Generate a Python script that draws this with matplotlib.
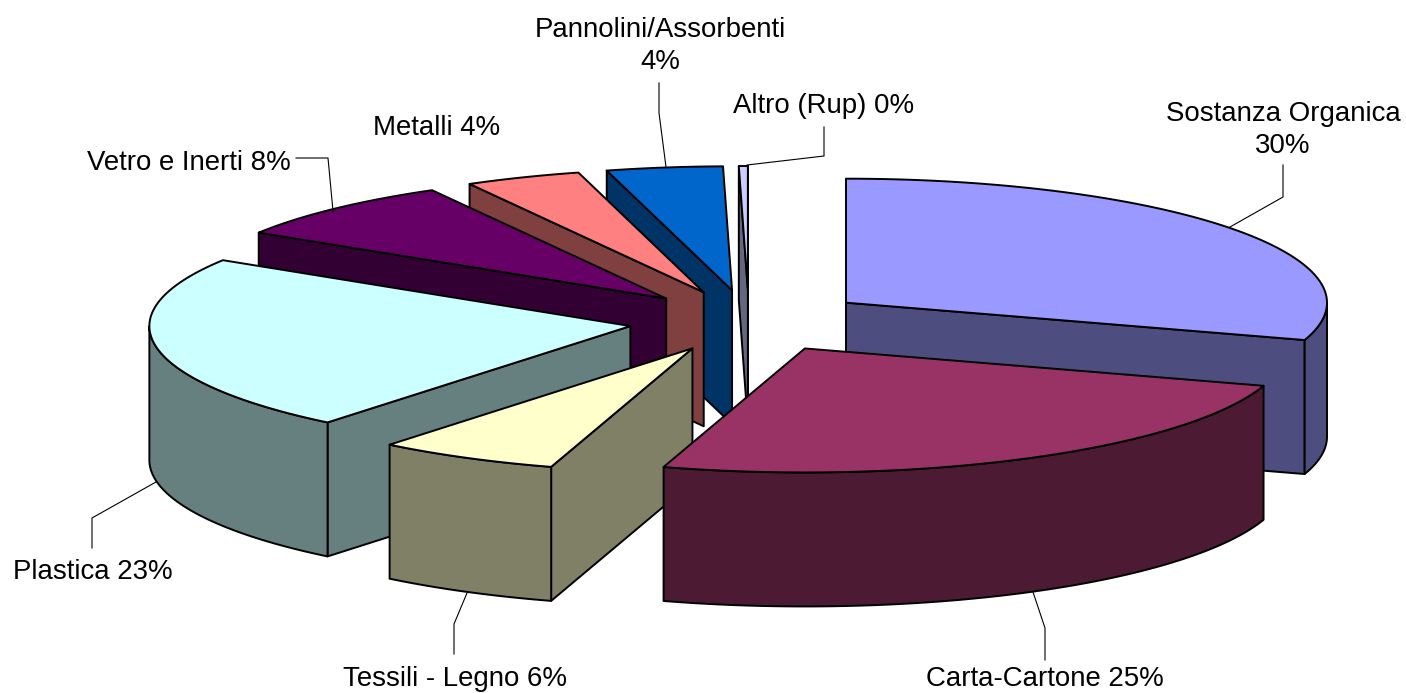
import matplotlib
matplotlib.use('Agg')
import matplotlib.pyplot as plt
import numpy as np

labels = ['Sostanza Organica\n30%', 'Carta-Cartone 25%', 'Tessili - Legno 6%', 'Plastica 23%',
          'Vetro e Inerti 8%', 'Metalli 4%', 'Pannolini/Assorbenti\n4%', 'Altro (Rup) 0%']
values = [29.9, 24.9, 6.1, 23.1, 8.0, 3.9, 3.9, 0.3]
top_colors = ['#9999FF', '#993366', '#FFFFCC', '#CCFFFF', '#660066', '#FF8080', '#0066CC', '#CCCCFF']
side_colors = ['#4D4D80', '#4D1A33', '#808066', '#668080', '#330033', '#804040', '#003366', '#666680']
draw_order = [7, 6, 5, 4, 0, 3, 2, 1]

# where the labels sit and how their leader lines run (pixels)
label_pos = [(1283, 130), (1045, 679), (455, 679), (93, 572), (189, 163), (437, 128), (660, 46), (824, 106)]
leaders = [[(1283, 165), (1283, 197), (1230, 227)],
           [(1045, 660), (1045, 628), (1033, 592)],
           [(454, 654), (454, 624), (467, 593)],
           [(92, 548), (92, 518), (156, 482)],
           [(296, 158), (328, 158), (333, 211)],
           None,
           [(659, 83), (659, 113), (666, 167)],
           [(824, 127), (824, 156), (747, 165)]]

CX, CY = 749, 321
RX, RY = 481, 124
DEPTH = 134
EXPLODE = 0.25
LW = 1.4


def ellipse_point(angle, cx, cy):
    # angle in degrees, clockwise from 12 o'clock
    a = np.radians(angle)
    return cx + RX * np.sin(a), cy - RY * np.cos(a)


def draw_slice(ax, a1, a2, top, side):
    mid = (a1 + a2) / 2
    ox, oy = ellipse_point(mid, 0, 0)
    x0 = CX + EXPLODE * ox
    y0 = CY + EXPLODE * oy

    # radial walls that face the viewer
    for a, visible in ((a1, np.sin(np.radians(a1)) < 0), (a2, np.sin(np.radians(a2)) > 0)):
        if visible:
            xe, ye = ellipse_point(a, x0, y0)
            ax.fill([x0, xe, xe, x0], [y0, ye, ye + DEPTH, y0 + DEPTH],
                    facecolor=side, edgecolor='black', linewidth=LW, joinstyle='round')

    # outer curved wall, only the front half shows
    s1, s2 = max(a1, 90), min(a2, 270)
    if s1 < s2:
        t = np.linspace(s1, s2, 80)
        xs, ys = ellipse_point(t, x0, y0)
        ax.fill(np.r_[xs, xs[::-1]], np.r_[ys, ys[::-1] + DEPTH],
                facecolor=side, edgecolor='black', linewidth=LW, joinstyle='round')

    # top face
    t = np.linspace(a1, a2, 120)
    xs, ys = ellipse_point(t, x0, y0)
    ax.fill(np.r_[x0, xs], np.r_[y0, ys],
            facecolor=top, edgecolor='black', linewidth=LW, joinstyle='round')


fig = plt.figure(figsize=(14.06, 6.93), dpi=100)
ax = fig.add_axes([0, 0, 1, 1])
ax.set_xlim(0, 1406)
ax.set_ylim(693, 0)
ax.axis('off')

edges = np.r_[0, np.cumsum(values)] / sum(values) * 360
for i in draw_order:
    draw_slice(ax, edges[i], edges[i + 1], top_colors[i], side_colors[i])

for line in leaders:
    if line:
        xs, ys = zip(*line)
        ax.plot(xs, ys, color='black', linewidth=0.8)

for text, (x, y) in zip(labels, label_pos):
    ax.text(x, y, text, family=['Liberation Sans', 'DejaVu Sans'], fontsize=19.9,
            ha='center', va='center', color='black', linespacing=1.3)

fig.savefig('out.png', dpi=100)
